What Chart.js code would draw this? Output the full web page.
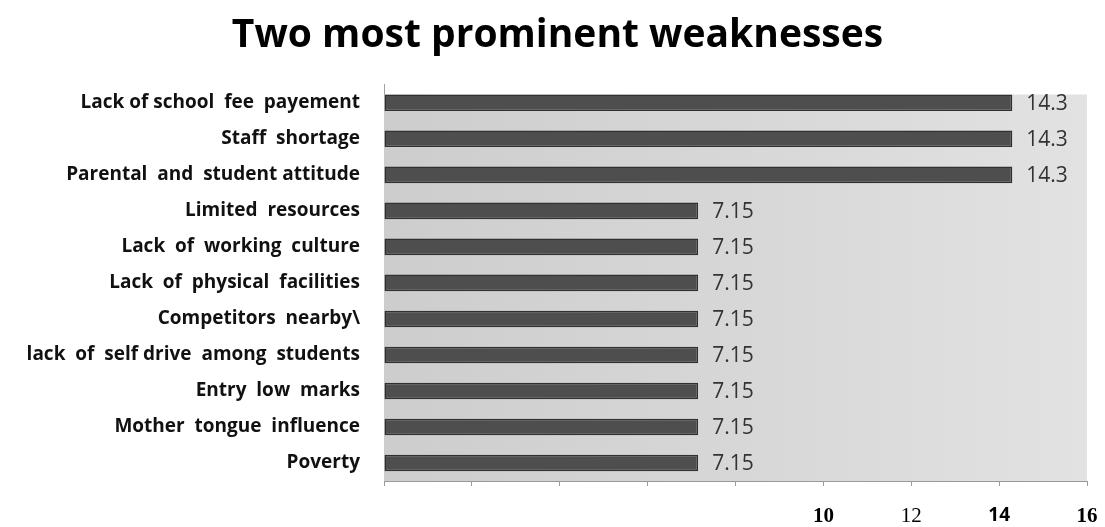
<!DOCTYPE html>
<html>
<head>
<meta charset="utf-8">
<script src="https://cdn.jsdelivr.net/npm/chart.js@4"></script>
<style>
  html, body { margin: 0; padding: 0; background: #fff; }
  canvas { display: block; }
</style>
</head>
<body>
<canvas id="chart" width="1105" height="527"></canvas>
<script>
// data
const categories = [
  "Lack of school  fee  payement",
  "Staff  shortage",
  "Parental  and  student attitude",
  "Limited  resources",
  "Lack  of  working  culture",
  "Lack  of  physical  facilities",
  "Competitors  nearby\\",
  "lack  of  self drive  among  students",
  "Entry  low  marks",
  "Mother  tongue  influence",
  "Poverty"
];
const values = [14.3, 14.3, 14.3, 7.15, 7.15, 7.15, 7.15, 7.15, 7.15, 7.15, 7.15];
const xMin = 0;
const xMax = 16;
const xStep = 2;
const shownTicks = [10, 12, 14, 16];

// fonts of the bottom tick labels (they are mixed in the source)
const tickFonts = {
  10: { family: "'Liberation Serif', serif", size: 21, weight: "bold" },
  12: { family: "'Liberation Serif', serif", size: 21, weight: "normal" },
  14: { family: "'Open Sans', sans-serif", size: 19, weight: "bold" },
  16: { family: "'Liberation Serif', serif", size: 21, weight: "bold" }
};

// gray plot background
const plotBg = {
  id: "plotBg",
  beforeDatasetsDraw(chart) {
    const { ctx, chartArea } = chart;
    const first = chart.getDatasetMeta(0).data[0];
    const top = first.y - first.height / 2;
    const g = ctx.createLinearGradient(chartArea.left, 0, chartArea.right, 0);
    g.addColorStop(0, "#cdcdcd");
    g.addColorStop(0.5, "#d7d7d7");
    g.addColorStop(1, "#e2e2e2");
    ctx.save();
    ctx.fillStyle = g;
    ctx.fillRect(chartArea.left, top, chartArea.right - chartArea.left, chartArea.bottom - top);
    ctx.restore();
  }
};

// value labels at the end of the bars
const valueLabels = {
  id: "valueLabels",
  afterDatasetsDraw(chart) {
    const { ctx } = chart;
    const meta = chart.getDatasetMeta(0);
    ctx.save();
    ctx.font = "21px 'Open Sans', sans-serif";
    ctx.fillStyle = "#333";
    ctx.textBaseline = "middle";
    ctx.textAlign = "left";
    meta.data.forEach((bar, i) => {
      ctx.fillText(String(values[i]), bar.x + 14, bar.y + 1);
    });
    ctx.restore();
  }
};

new Chart(document.getElementById("chart"), {
  type: "bar",
  data: {
    labels: categories,
    datasets: [{
      data: values,
      backgroundColor: "#4e4e4e",
      borderColor: "#303030",
      borderWidth: 1.5,
      borderSkipped: false,
      barPercentage: 0.46,
      categoryPercentage: 1
    }]
  },
  options: {
    indexAxis: "y",
    responsive: false,
    animation: false,
    layout: { padding: { left: 10, right: 0, top: 0, bottom: 0 } },
    plugins: {
      legend: { display: false },
      tooltip: { enabled: false },
      title: {
        display: true,
        text: "Two most prominent weaknesses",
        color: "#000",
        font: { family: "'Open Sans', sans-serif", size: 39, weight: "bold", lineHeight: 1.2 },
        padding: { top: 12, bottom: 26 }
      }
    },
    scales: {
      x: {
        min: xMin,
        max: xMax,
        afterFit(s) {
          s.height = 46;
          s.paddingLeft = 0;
          s.paddingRight = 18;
        },
        grid: { drawOnChartArea: false, drawTicks: true, tickLength: 5, color: "#9a9a9a" },
        border: { display: true, color: "#9a9a9a" },
        ticks: {
          stepSize: xStep,
          padding: 18,
          color: "#000",
          autoSkip: false,
          maxRotation: 0,
          callback: (v) => shownTicks.includes(v) ? String(v) : "",
          font: (c) => (c.tick && tickFonts[c.tick.value]) || { size: 12 }
        }
      },
      y: {
        afterFit(s) { s.width = 374; },
        grid: { display: false, drawTicks: false },
        border: { display: true, color: "#a0a0a0" },
        ticks: {
          padding: 24,
          color: "#111",
          autoSkip: false,
          font: { family: "'Open Sans', sans-serif", size: 19, weight: "bold" }
        }
      }
    }
  },
  plugins: [plotBg, valueLabels]
});
</script>
</body>
</html>
